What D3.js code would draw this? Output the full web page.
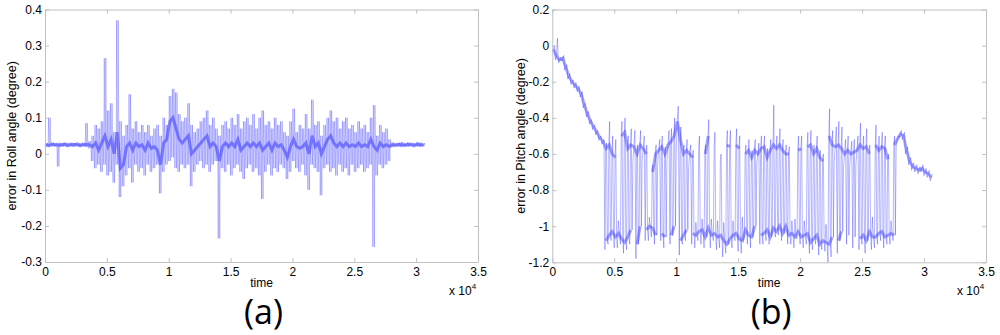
<!DOCTYPE html>
<html>
<head>
<meta charset="utf-8">
<script src="https://cdnjs.cloudflare.com/ajax/libs/d3/7.8.5/d3.min.js"></script>
<style>
  body { margin: 0; background: #fff; }
  text { font-family: "Liberation Sans", Arial, sans-serif; }
</style>
</head>
<body>
<script>
// Define SVG area dimensions
var svgWidth = 1000;
var svgHeight = 335;

// samples every 250 time units (bin start)
var sampleTimes = d3.range(0, 30750, 250);

// (a) roll error: upper / lower envelope of each bin and the dense core
var rollHi = [
  0.03, 0.10, 0.032, 0.03, 0.031, 0.03, 0.032, 0.03, 0.031, 0.03,
  0.032, 0.03, 0.031, 0.085, 0.035, 0.05, 0.08, 0.07, 0.09, 0.265,
  0.12, 0.14, 0.06, 0.37, 0.09, 0.05, 0.08, 0.165, 0.07, 0.09,
  0.06, 0.08, 0.06, 0.08, 0.05, 0.07, 0.08, 0.05, 0.10, 0.08,
  0.16, 0.18, 0.17, 0.11, 0.09, 0.10, 0.14, 0.08, 0.06, 0.07,
  0.09, 0.10, 0.12, 0.08, 0.10, 0.07, 0.05, 0.08, 0.09, 0.07,
  0.10, 0.08, 0.11, 0.07, 0.09, 0.10, 0.08, 0.11, 0.07, 0.10,
  0.12, 0.08, 0.09, 0.07, 0.10, 0.08, 0.09, 0.06, 0.05, 0.09,
  0.125, 0.06, 0.08, 0.07, 0.11, 0.07, 0.15, 0.08, 0.09, 0.05,
  0.08, 0.10, 0.12, 0.09, 0.10, 0.07, 0.09, 0.10, 0.07, 0.08,
  0.06, 0.09, 0.07, 0.08, 0.06, 0.10, 0.135, 0.05, 0.08, 0.06,
  0.07, 0.04, 0.032, 0.03, 0.031, 0.033, 0.03, 0.032, 0.031, 0.03,
  0.033, 0.031, 0.03
];
var rollLo = [
  0.02, 0.018, 0.02, 0.02, -0.035, 0.019, 0.02, 0.018, 0.02, 0.019,
  0.021, 0.018, 0.02, 0.019, 0.015, -0.02, -0.04, -0.03, -0.05, -0.03,
  -0.06, -0.05, -0.08, -0.03, -0.12, -0.09, -0.06, -0.04, -0.08, -0.03,
  -0.05, -0.04, -0.06, -0.03, -0.05, -0.04, -0.03, -0.11, -0.05, -0.03,
  -0.02, -0.01, -0.04, -0.05, -0.03, -0.04, -0.03, -0.09, -0.05, -0.03,
  -0.02, -0.04, -0.03, -0.05, -0.03, -0.02, -0.235, -0.04, -0.05, -0.03,
  -0.06, -0.04, -0.03, -0.05, -0.07, -0.04, -0.03, -0.05, -0.04, -0.06,
  -0.125, -0.05, -0.03, -0.06, -0.04, -0.05, -0.03, -0.04, -0.07, -0.05,
  -0.02, -0.04, -0.05, -0.03, -0.06, -0.10, -0.03, -0.04, -0.05, -0.115,
  -0.04, -0.03, -0.05, -0.04, -0.06, -0.03, -0.05, -0.04, -0.06, -0.03,
  -0.05, -0.04, -0.03, -0.05, -0.04, -0.03, -0.258, -0.06, -0.03, -0.04,
  -0.03, -0.02, 0.018, 0.02, 0.019, 0.018, 0.02, 0.019, 0.021, 0.018,
  0.02, 0.019, 0.02
];
var rollMid = [
  0.025, 0.024, 0.026, 0.025, 0.024, 0.025, 0.026, 0.024, 0.025, 0.026,
  0.025, 0.024, 0.025, 0.026, 0.025, 0.02, 0.03, 0.01, 0.03, 0.05,
  0.02, 0.04, 0.0, 0.06, -0.04, -0.03, 0.02, 0.03, 0.01, 0.03,
  0.02, 0.025, 0.01, 0.03, 0.015, 0.02, 0.01, -0.03, 0.03, 0.04,
  0.09, 0.1, 0.07, 0.04, 0.03, 0.04, 0.05, 0.0, 0.01, 0.02,
  0.03, 0.04, 0.05, 0.02, 0.03, 0.02, -0.02, 0.02, 0.03, 0.02,
  0.03, 0.02, 0.04, 0.01, 0.02, 0.03, 0.02, 0.03, 0.02, 0.03,
  0.01, 0.02, 0.03, 0.01, 0.03, 0.02, 0.025, 0.01, -0.01, 0.02,
  0.04, 0.02, 0.015, 0.02, 0.03, 0.0, 0.05, 0.02, 0.03, 0.0,
  0.02, 0.04, 0.05, 0.03, 0.02, 0.03, 0.02, 0.03, 0.02, 0.025,
  0.02, 0.03, 0.02, 0.025, 0.02, 0.04, 0.02, 0.01, 0.03, 0.02,
  0.025, 0.02, 0.025, 0.024, 0.026, 0.025, 0.024, 0.026, 0.025, 0.024,
  0.026, 0.025, 0.024
];

// (b) pitch error: envelope of each bin, upper-level core and lower-level core
var pitchHi = [
  0.0, 0.04, -0.065, -0.055, -0.105, -0.155, -0.19, -0.205, -0.225, -0.255,
  -0.32, -0.365, -0.41, -0.44, -0.47, -0.5, -0.52, -0.54, -0.42, -0.50,
  -0.52, -0.97, -0.42, -0.40, -0.50, -0.46, -0.47, -0.55, -0.47, -0.50,
  -0.55, -0.95, -0.66, -0.55, -0.52, -0.50, -0.56, -0.47, -0.46, -0.40,
  -0.335, -0.45, -0.55, -0.52, -0.55, -0.58, -0.98, -0.50, -0.96, -0.55,
  -0.41, -0.96, -0.48, -0.97, -0.60, -0.98, -0.47, -0.47, -0.97, -0.46,
  -0.50, -0.95, -0.55, -0.52, -0.58, -0.52, -0.54, -0.50, -0.50, -0.57,
  -0.52, -0.33, -0.50, -0.46, -0.52, -0.55, -0.56, -0.97, -0.96, -0.50,
  -0.50, -0.97, -0.48, -0.47, -0.55, -0.50, -0.58, -0.60, -0.99, -0.35,
  -0.47, -0.45, -0.42, -0.45, -0.52, -0.50, -0.53, -0.52, -0.50, -0.43,
  -0.50, -0.46, -0.55, -0.95, -0.44, -0.50, -0.48, -0.50, -0.60, -0.97,
  -0.50, -0.50, -0.47, -0.48, -0.56, -0.62, -0.65, -0.66, -0.67, -0.66,
  -0.68, -0.69, -0.71
];
var pitchLo = [
  -0.035, -0.08, -0.095, -0.085, -0.135, -0.185, -0.215, -0.235, -0.255, -0.285,
  -0.345, -0.395, -0.435, -0.465, -0.495, -0.525, -0.545, -1.13, -1.10, -1.08,
  -1.12, -1.12, -1.10, -1.15, -1.13, -1.10, -0.65, -1.18, -1.05, -0.64,
  -1.08, -1.08, -1.06, -1.10, -0.66, -1.08, -1.12, -0.64, -1.10, -1.05,
  -0.60, -1.16, -1.10, -1.08, -0.68, -1.10, -1.12, -1.08, -1.10, -1.12,
  -1.06, -1.12, -1.08, -1.13, -1.12, -1.17, -1.15, -1.10, -1.12, -1.08,
  -1.14, -1.15, -1.06, -1.10, -1.12, -1.05, -0.66, -1.10, -1.10, -1.08,
  -1.10, -1.05, -1.06, -1.05, -1.08, -1.04, -1.10, -1.10, -1.12, -1.07,
  -1.10, -1.12, -1.10, -1.15, -1.13, -1.10, -1.16, -1.13, -1.14, -1.20,
  -1.17, -0.65, -1.15, -1.08, -0.68, -1.10, -0.67, -1.12, -0.66, -1.13,
  -1.10, -1.15, -1.08, -1.13, -1.12, -1.10, -1.08, -1.12, -1.10, -1.10,
  -1.08, -0.56, -0.51, -0.52, -0.60, -0.66, -0.69, -0.70, -0.71, -0.70,
  -0.72, -0.73, -0.75
];
var pitchUp = [
  -0.02, -0.06, -0.08, -0.07, -0.12, -0.17, -0.2, -0.22, -0.24, -0.27,
  -0.33, -0.38, -0.42, -0.45, -0.48, -0.51, -0.53, -0.57, -0.55, -0.60,
  -0.62, null, -0.50, -0.48, -0.57, -0.55, -0.56, -0.60, -0.55, -0.57,
  -0.60, null, -0.70, -0.60, -0.58, -0.56, -0.60, -0.55, -0.53, -0.50,
  -0.42, -0.52, -0.60, -0.58, -0.60, -0.62, null, -0.57, null, -0.60,
  -0.50, null, -0.56, null, -0.63, null, -0.55, -0.56, null, -0.55,
  -0.57, null, -0.60, -0.58, -0.62, -0.58, -0.60, -0.57, -0.56, -0.62,
  -0.58, -0.55, -0.57, -0.55, -0.58, -0.60, -0.60, null, null, -0.58,
  -0.57, null, -0.56, -0.55, -0.60, -0.57, -0.62, -0.64, null, -0.50,
  -0.55, -0.56, -0.55, -0.57, -0.60, -0.58, -0.60, -0.59, -0.58, -0.55,
  -0.57, -0.56, -0.60, null, -0.55, -0.58, -0.56, -0.57, -0.63, null,
  -0.55, -0.52, -0.49, -0.50, -0.58, -0.64, -0.67, -0.68, -0.69, -0.68,
  -0.70, -0.71, -0.73
];
var pitchDn = [
  null, null, null, null, null, null, null, null, null, null,
  null, null, null, null, null, null, null, -1.08, -1.05, -1.03,
  -1.06, -1.04, -1.07, -1.09, -1.06, -1.02, null, -1.10, -1.00, null,
  -1.02, -1.00, -1.01, -1.05, null, -1.04, -1.06, null, -1.05, -1.00,
  null, -1.08, -1.05, -1.02, null, -1.04, -1.05, -1.03, -1.02, -1.06,
  -1.01, -1.05, -1.04, -1.06, -1.05, -1.08, -1.10, -1.07, -1.05, -1.04,
  -1.07, -1.08, -1.02, -1.05, -1.06, -1.00, null, -1.05, -1.04, -1.02,
  -1.06, -1.01, -1.03, -1.00, -1.04, -1.00, -1.05, -1.04, -1.06, -1.03,
  -1.06, -1.05, -1.04, -1.09, -1.07, -1.05, -1.10, -1.08, -1.09, -1.10,
  -1.06, null, -1.08, -1.03, null, -1.05, null, -1.06, null, -1.07,
  -1.05, -1.08, -1.03, -1.06, -1.06, -1.04, -1.03, -1.06, -1.05, -1.04,
  -1.05, null, null, null, null, null, null, null, null, null,
  null, null, null
];

// tick values
var xTicks = [0, 5000, 10000, 15000, 20000, 25000, 30000, 35000];
var rollTicks = [-0.3, -0.2, -0.1, 0, 0.1, 0.2, 0.3, 0.4];
var pitchTicks = [-1.2, -1, -0.8, -0.6, -0.4, -0.2, 0, 0.2];

// visiting order inside one bin ("c0"/"c1" are the core series)
var panels = [
  { left: 45, right: 478, top: 9.5, bottom: 262, yDomain: [-0.3, 0.4], yTicks: rollTicks,
    hi: rollHi, lo: rollLo, cores: [rollMid], yLabel: "error in Roll angle (degree)",
    yLabelX: 15.5, tag: "(a)", order: ["lo", "hi", "c0", "lo", "hi", "c0"],
    bandWidth: 0.6, bandOpacity: 0.4, coreWidth: 3, coreOpacity: 0.45 },
  { left: 552.3, right: 986, top: 9.5, bottom: 262.3, yDomain: [-1.2, 0.2], yTicks: pitchTicks,
    hi: pitchHi, lo: pitchLo, cores: [pitchUp, pitchDn], yLabel: "error in Pitch angle (degree)",
    yLabelX: 524.5, tag: "(b)", order: ["lo", "c0", "hi", "c1"],
    bandWidth: 0.9, bandOpacity: 0.32, coreWidth: 3, coreOpacity: 0.4 }
];

var svg = d3.select("body")
  .append("svg")
  .attr("width", svgWidth)
  .attr("height", svgHeight);

svg.append("rect").attr("width", svgWidth).attr("height", svgHeight).attr("fill", "#fff");

var fmt = function(d) { return String(+d.toFixed(1)); };

panels.forEach(function(p) {
  var x = d3.scaleLinear().domain([0, 35000]).range([p.left, p.right]);
  var y = d3.scaleLinear().domain(p.yDomain).range([p.bottom, p.top]);

  // trace: walk through the bin values in the panel's order, skipping missing cores
  var trace = [];
  sampleTimes.forEach(function(t, i) {
    var seq = p.order.map(function(k) {
      if (k === "lo") return p.lo[i];
      if (k === "hi") return p.hi[i];
      return p.cores[+k[1]][i];
    }).filter(function(v) { return v !== null; });
    seq.forEach(function(v, k) {
      trace.push([t + k * 250 / seq.length, v]);
    });
  });

  var line = d3.line()
    .x(function(d) { return x(d[0]); })
    .y(function(d) { return y(d[1]); });

  svg.append("path")
    .attr("d", line(trace))
    .attr("fill", "none")
    .attr("stroke", "#0000ff")
    .attr("stroke-opacity", p.bandOpacity)
    .attr("stroke-width", p.bandWidth);

  // denser core of the trace
  var coreLine = d3.line()
    .defined(function(d) { return d[1] !== null; })
    .x(function(d) { return x(d[0]); })
    .y(function(d) { return y(d[1]); });

  p.cores.forEach(function(core) {
    svg.append("path")
      .attr("d", coreLine(sampleTimes.map(function(t, i) { return [t + 90, core[i]]; })))
      .attr("fill", "none")
      .attr("stroke", "#2020ff")
      .attr("stroke-opacity", p.coreOpacity)
      .attr("stroke-width", p.coreWidth);
  });

  // axes, MATLAB style box with inward ticks
  var axisColor = "#c0c0c0";
  var bottom = svg.append("g")
    .attr("transform", "translate(0," + p.bottom + ")")
    .call(d3.axisBottom(x).tickValues(xTicks).tickFormat(function(d) { return fmt(d / 10000); })
      .tickSizeInner(-4).tickSizeOuter(0).tickPadding(5));
  var top = svg.append("g")
    .attr("transform", "translate(0," + p.top + ")")
    .call(d3.axisTop(x).tickValues(xTicks).tickFormat("").tickSizeInner(-4).tickSizeOuter(0));
  var left = svg.append("g")
    .attr("transform", "translate(" + p.left + ",0)")
    .call(d3.axisLeft(y).tickValues(p.yTicks).tickFormat(fmt)
      .tickSizeInner(-4).tickSizeOuter(0).tickPadding(3));
  var right = svg.append("g")
    .attr("transform", "translate(" + p.right + ",0)")
    .call(d3.axisRight(y).tickValues(p.yTicks).tickFormat("").tickSizeInner(-4).tickSizeOuter(0));

  [bottom, top, left, right].forEach(function(g) {
    g.selectAll("path, line").attr("stroke", axisColor);
    g.selectAll("text")
      .attr("fill", "#000")
      .style("font-family", "'Liberation Sans', Arial, sans-serif")
      .style("font-size", "12px");
  });

  var cx = (p.left + p.right) / 2;
  var cy = (p.top + p.bottom) / 2;

  // y axis label
  svg.append("text")
    .attr("transform", "translate(" + p.yLabelX + "," + cy + ") rotate(-90)")
    .attr("text-anchor", "middle")
    .style("font-size", "12.5px")
    .text(p.yLabel);

  // x axis label
  svg.append("text")
    .attr("x", cx)
    .attr("y", 287)
    .attr("text-anchor", "middle")
    .style("font-size", "12px")
    .text("time");

  // exponent
  var expo = svg.append("text")
    .attr("x", p.right - 29)
    .attr("y", 295)
    .style("font-size", "12px");
  expo.append("tspan").text("x 10");
  expo.append("tspan").attr("dy", -6).style("font-size", "8px").text("4");

  // panel tag
  svg.append("text")
    .attr("x", cx + 2)
    .attr("y", 324)
    .attr("text-anchor", "middle")
    .style("font-family", "'Open Sans', 'Liberation Sans', sans-serif")
    .style("font-size", "34px")
    .text(p.tag);
});
</script>
</body>
</html>
